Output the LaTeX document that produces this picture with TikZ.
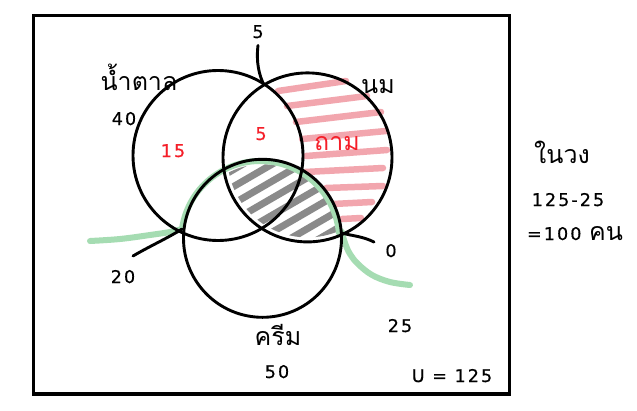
\documentclass[tikz,border=0pt]{standalone}
\usepackage{fontspec}
\newfontfamily\thai[Script=Thai]{Loma}
\newfontfamily\numf[LetterSpace=12,FakeBold=0.6]{DejaVu Sans}
\definecolor{pinkh}{RGB}{242,166,174}
\definecolor{grayh}{RGB}{138,138,138}
\definecolor{greenh}{RGB}{165,220,178}
\definecolor{redt}{RGB}{245,30,40}
\begin{document}
\begin{tikzpicture}[x=1pt,y=-1pt,
  ring/.style={circle,draw=black,line width=2.9pt,minimum size=#1,inner sep=0pt},
  num/.style={font=\numf\fontsize{17.5}{19}\selectfont,inner sep=0pt,anchor=base},
  th/.style={font=\thai\fontsize{25}{28}\selectfont,inner sep=0pt,anchor=base},
  pinkstroke/.style={draw=pinkh,line width=6.5pt,line cap=round},
  graystroke/.style={draw=grayh,line width=7pt,line cap=round},
  greenline/.style={draw=greenh,line width=6pt,line cap=round,line join=round},
  link/.style={draw=black,line width=2.9pt,line cap=round}]
\useasboundingbox (0,0) rectangle (637,410);
\fill[white] (0,0) rectangle (637,410);
\draw[line width=3.2pt] (33.5,15.8) rectangle (509.3,394);

% pink hatch (milk only)
\foreach \a/\b/\c/\d in {278/91/346/81, 287/106/367/96, 296/122/381/112,
  302/139/386/131, 306/156/387/150, 305/172/383/168, 326/188/383/186,
  333/204/372/202, 342/219/361/218}
  \draw[pinkstroke] (\a,\b) -- (\c,\d);

% gray hatch (milk and cream)
\begin{scope}
  \clip (307.5,157.4) circle[radius=80];
  \clip (262.5,238.3) circle[radius=74];
  \foreach \c in {305,322,...,431}
    \draw[graystroke] (200,\c-116) -- (360,\c-208.8);
\end{scope}

% green line
\draw[greenline] plot[smooth,tension=0.6] coordinates {(90,241) (120,239) (150,235) (170,232) (182,229)}
  arc[start angle=188,end angle=355,radius=79]
  -- plot[smooth,tension=0.6] coordinates {(341.7,231.5) (345,243) (350,254) (358,264) (372,275) (390,282) (410,285)};

% circles
\node[ring=170] (c1) at (218,155.5) {};
\node[ring=169] (c2) at (307.5,157.4) {};
\node[ring=158] (c3) at (262.5,238.3) {};

\coordinate (i12) at (264,85);
\coordinate (i13) at (182,229);
\coordinate (i23) at (342,233);
\coordinate (e20) at (133,256);
\coordinate (e0) at (374,242);

% labels
\node[num] (t5) at (258,38) {5};
\node[th] (sugar) at (139,90) {น้ำตาล};
\node[th] (milk) at (378,93) {นม};
\node[num] (t40) at (124,125) {40};
\node[num,text=redt] (t15) at (173,157) {15};
\node[num,text=redt] (t5r) at (261,140) {5};
\node[th,text=redt] (ask) at (337,150) {ถาม};
\node[num] (t20) at (123,283) {20};
\node[num] (t0) at (391,257) {0};
\node[num] (t25) at (400,332) {25};
\node[th] (cream) at (278,345) {ครีม};
\node[num] (t50) at (277,378) {50};
\node[num] (tu) at (452,382) {U = 125};
\node[th] (inring) at (562,163) {ในวง};
\node[num] (calc) at (568,206) {125-25};
\node[num] (res) at (575,240) {=100 {\thai\fontsize{25}{28}\selectfont คน}};

% connectors
\draw[link] ([yshift=-7pt]t5.south) .. controls (256,62) and (259,75) .. (i12);
\draw[link] (e20) .. controls (150,246) and (168,238) .. (i13);
\draw[link] (e0) .. controls (362,236) and (352,236) .. (i23);
\end{tikzpicture}
\end{document}
